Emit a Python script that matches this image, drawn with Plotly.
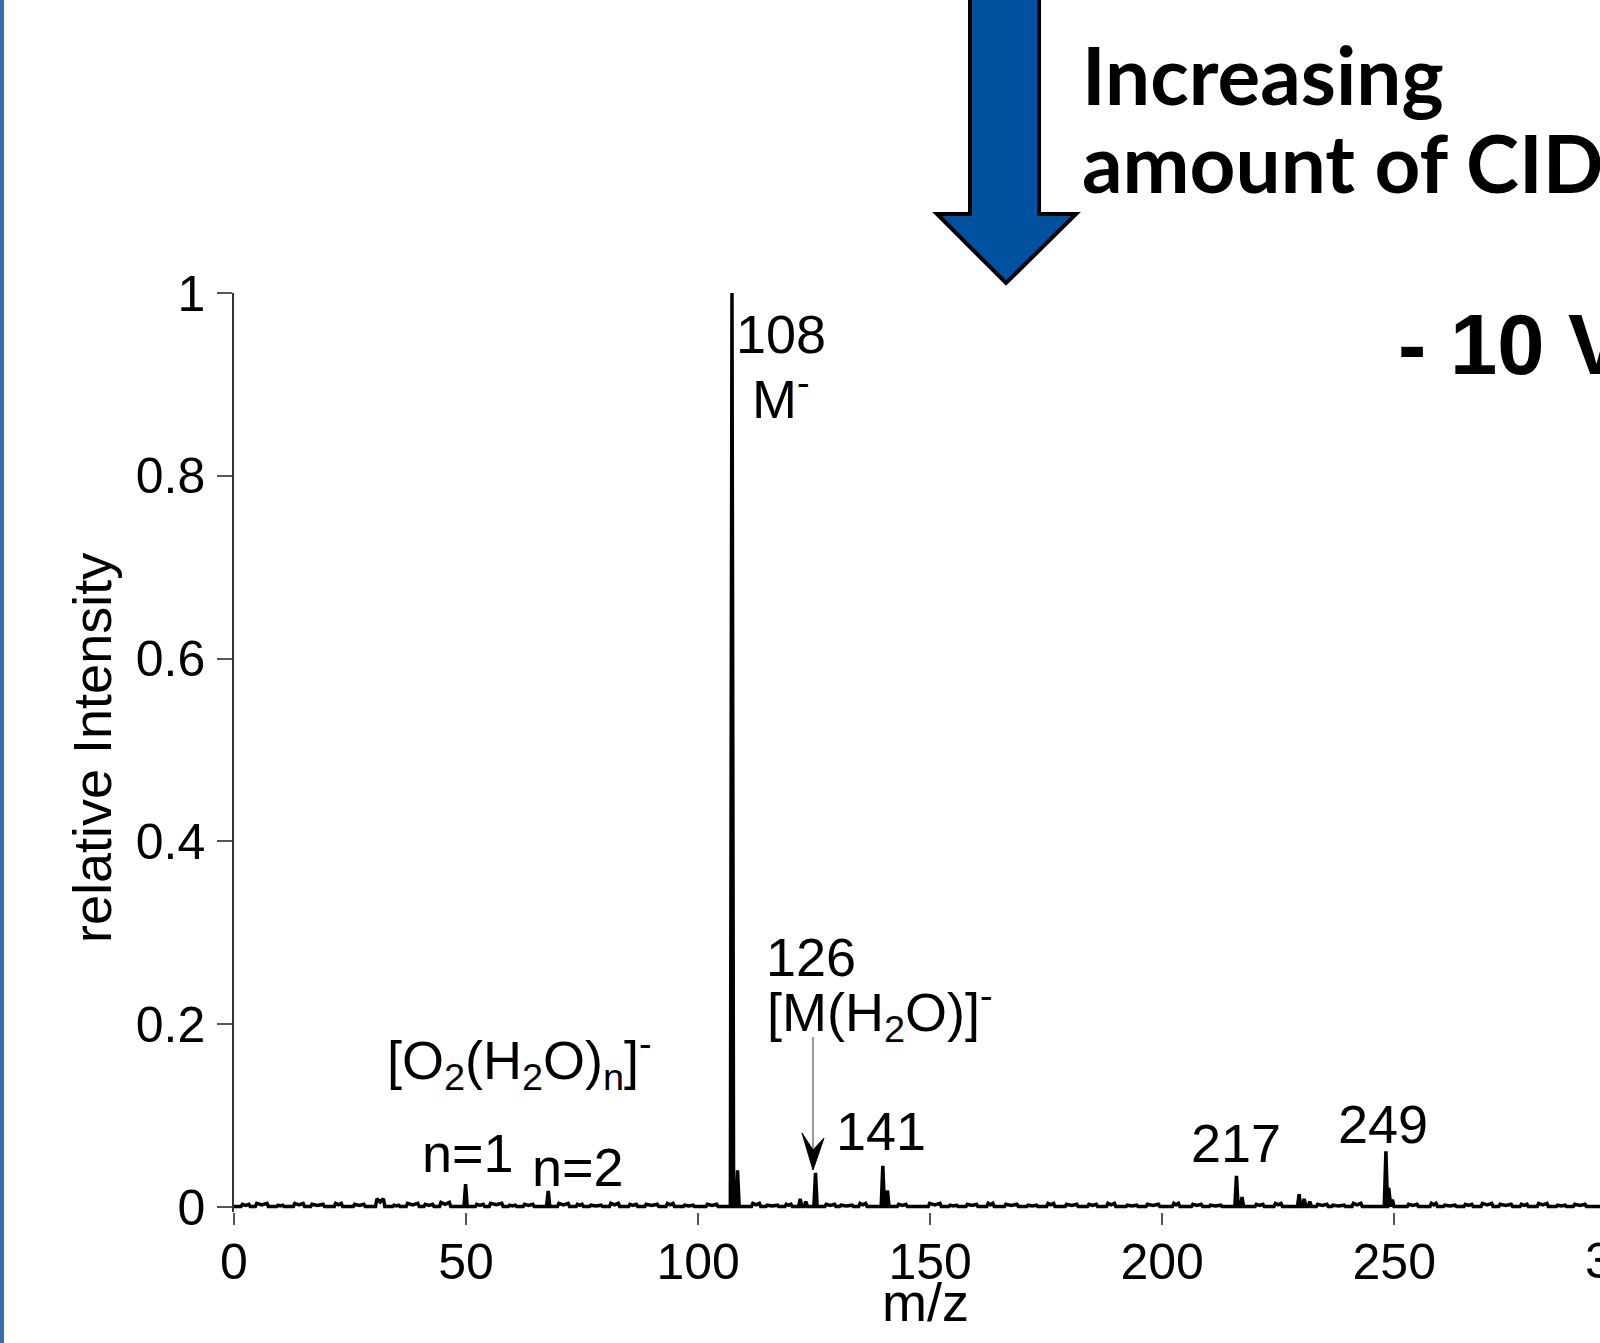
import plotly.graph_objects as go

# ---------------- data ----------------
peak_mz = [49.9, 67.7, 107.3, 108.5, 122.0, 123.2, 125.3, 139.8, 140.8,
           216.0, 217.2, 229.5, 230.6, 231.8, 248.2, 248.8, 249.6]
peak_int = [0.025, 0.0175, 1.0, 0.040, 0.009, 0.006, 0.0375, 0.045, 0.018,
            0.034, 0.011, 0.014, 0.009, 0.006, 0.061, 0.021, 0.008]

noise_mz = [2.5, 6.0, 10.0, 14.0, 18.0, 22.5, 27.0, 31.5, 35.0, 38.5,
            42.0, 45.5, 53.0, 56.5, 60.0, 63.5, 71.0, 74.5, 78.0, 82.0, 86.0,
            90.0, 94.0, 98.0, 103.0, 112.5, 116.0, 119.5, 128.5, 132.0, 135.5,
            144.0, 151.0, 155.0, 159.0, 163.0, 167.5, 172.0, 176.0, 180.5,
            185.0, 189.0, 193.5, 198.0, 203.0, 207.5, 211.5, 221.0, 225.0,
            234.5, 238.0, 242.0, 254.0, 258.5, 262.0, 266.0, 270.0, 274.0,
            278.0, 282.0, 286.0, 290.0]
noise_int = [0.003, 0.004, 0.002, 0.004, 0.003, 0.004, 0.003, 0.009,
             0.002, 0.004, 0.003, 0.005, 0.003, 0.004, 0.002, 0.003, 0.004,
             0.003, 0.002, 0.004, 0.003, 0.003, 0.004, 0.002, 0.003, 0.004,
             0.002, 0.003, 0.003, 0.002, 0.004, 0.003, 0.004, 0.002, 0.003,
             0.004, 0.003, 0.002, 0.004, 0.003, 0.003, 0.004, 0.002, 0.003,
             0.004, 0.003, 0.002, 0.003, 0.004, 0.003, 0.002, 0.004, 0.003,
             0.004, 0.002, 0.003, 0.004, 0.003, 0.003, 0.004, 0.002, 0.003]
noise_halfwidth = [1.0, 1.4, 0.8, 1.2, 1.5, 0.9, 1.3, 1.0, 0.8, 1.4, 1.1,
                   1.2, 1.0, 1.5, 0.9, 1.2, 1.3, 0.8, 1.4, 1.1, 1.0, 1.5,
                   0.9, 1.2, 1.3, 1.0, 1.4, 0.8, 1.2, 1.5, 0.9, 1.1, 1.4,
                   1.0, 1.3, 0.8, 1.5, 1.2, 0.9, 1.4, 1.1, 1.0, 1.3, 1.5,
                   0.8, 1.2, 1.4, 1.0, 0.9, 1.3, 1.5, 1.1, 1.2, 0.8, 1.4,
                   1.0, 1.3, 1.5, 0.9, 1.2, 1.1, 1.4]

x_tick_vals = [0, 50, 100, 150, 200, 250]
x_tick_text = ["0", "50", "100", "150", "200", "250"]
y_tick_vals = [0, 0.2, 0.4, 0.6, 0.8, 1.0]
y_tick_text = ["0", "0.2", "0.4", "0.6", "0.8", "1"]

# ---------------- build stick spectrum ----------------
BASE = 0.0005
items = [(m, h, "peak", 0.35) for m, h in zip(peak_mz, peak_int)] + \
        [(m, h, "noise", w) for m, h, w in zip(noise_mz, noise_int, noise_halfwidth)]
items.sort(key=lambda t: t[0])
xs, ys = [0.0], [BASE]
for m, h, kind, w in items:
    if kind == "peak":
        xs += [m - w, m, m + w]
        ys += [BASE, h, BASE]
    else:
        xs += [m - w, m - w + 0.3, m, m + w - 0.3, m + w]
        ys += [BASE, h, h * 0.6, h, BASE]
xs.append(300.0)
ys.append(BASE)

# ---------------- geometry (pixels) ----------------
FW, FH = 1600, 1343
L, T = 234, 293
W = FW - L
H = 919
B = T + H
XMAX = W / 4.641


def xp(px):
    return (px - L) / W


def yp(py):
    return (B - py) / H


fig = go.Figure()
fig.add_trace(go.Scatter(x=xs, y=ys, mode="lines",
                         line=dict(color="black", width=3.5),
                         hoverinfo="skip", showlegend=False))

ARIAL = "Liberation Sans, Arial, sans-serif"
annos = []


def txt(text, px, py, size=54, xanchor="center", yanchor="middle",
        family=ARIAL, bold=False, angle=0):
    annos.append(dict(text=text, xref="paper", yref="paper",
                      x=xp(px), y=yp(py), xanchor=xanchor, yanchor=yanchor,
                      showarrow=False, textangle=angle,
                      font=dict(family=family, size=size, color="black",
                                weight="bold" if bold else "normal")))


# peak labels
txt("108", 734, 334, xanchor="left")
txt("M<sup>-</sup>", 750, 395, xanchor="left")
txt("126", 811, 957)
txt("[M(H<sub>2</sub>O)]<sup>-</sup>", 880, 1012)
txt("[O<sub>2</sub>(H<sub>2</sub>O)<sub>n</sub>]<sup>-</sup>", 519, 1060)
txt("n=1", 468, 1153)
txt("n=2", 578, 1167)
txt("141", 881, 1131)
txt("217", 1236, 1143)
txt("249", 1383, 1124)

# axis titles and cut-off tick label
txt("relative Intensity", 92, 748, angle=-90)
txt("m/z", 925, 1302)
txt("300", 1626, 1261, size=50)

# header texts
txt("Increasing", 1080, 74, size=80, xanchor="left",
    family="Lato, Open Sans, sans-serif", bold=True)
txt("amount of CID", 1080, 162, size=80, xanchor="left",
    family="Lato, Open Sans, sans-serif", bold=True)
txt("- 10 V", 1396, 344, size=85, xanchor="left", bold=True)

shapes = []
# blue arrow
arrow_pts = [(970, -10), (970, 214), (937, 214), (1006, 283), (1076, 214),
             (1039, 214), (1039, -10)]
path = "M " + " L ".join(f"{xp(a):.5f},{yp(b):.5f}" for a, b in arrow_pts) + " Z"
shapes.append(dict(type="path", xref="paper", yref="paper", path=path,
                   fillcolor="#00529f", line=dict(color="black", width=4),
                   layer="above"))
# thin arrow line for 126
shapes.append(dict(type="line", xref="paper", yref="paper",
                   x0=xp(813), x1=xp(813), y0=yp(1037), y1=yp(1150),
                   line=dict(color="#777777", width=1.5)))
head = [(813, 1170), (802, 1133), (813, 1150), (824, 1138)]
hpath = "M " + " L ".join(f"{xp(a):.5f},{yp(b):.5f}" for a, b in head) + " Z"
shapes.append(dict(type="path", xref="paper", yref="paper", path=hpath,
                   fillcolor="black", line=dict(color="black", width=1)))
# left blue border line
shapes.append(dict(type="rect", xref="paper", yref="paper",
                   x0=xp(0), x1=xp(4), y0=yp(FH + 5), y1=yp(-5),
                   fillcolor="#3a6ea5", line=dict(width=0), layer="above"))

fig.update_layout(
    width=FW, height=FH,
    margin=dict(l=L, r=0, t=T, b=FH - B, pad=0),
    paper_bgcolor="white", plot_bgcolor="white",
    annotations=annos, shapes=shapes,
    xaxis=dict(range=[0, XMAX], tickvals=x_tick_vals, ticktext=x_tick_text,
               ticks="outside", ticklen=12, tickwidth=1.5, tickcolor="#555555",
               showgrid=False, zeroline=False, showline=False,
               tickfont=dict(family=ARIAL, size=50, color="black"),
               ticklabelstandoff=-6),
    yaxis=dict(range=[-5 / 914, 1.0], tickvals=y_tick_vals, ticktext=y_tick_text,
               ticks="outside", ticklen=15, tickwidth=1.5, tickcolor="#555555",
               showgrid=False, zeroline=False, showline=True,
               linecolor="#333333", linewidth=1.5,
               tickfont=dict(family=ARIAL, size=50, color="black"),
               ticklabelstandoff=2),
)

fig.write_html("out.html", config={"displayModeBar": False},
               post_script="document.body.style.margin='0';document.body.style.overflow='hidden';")
